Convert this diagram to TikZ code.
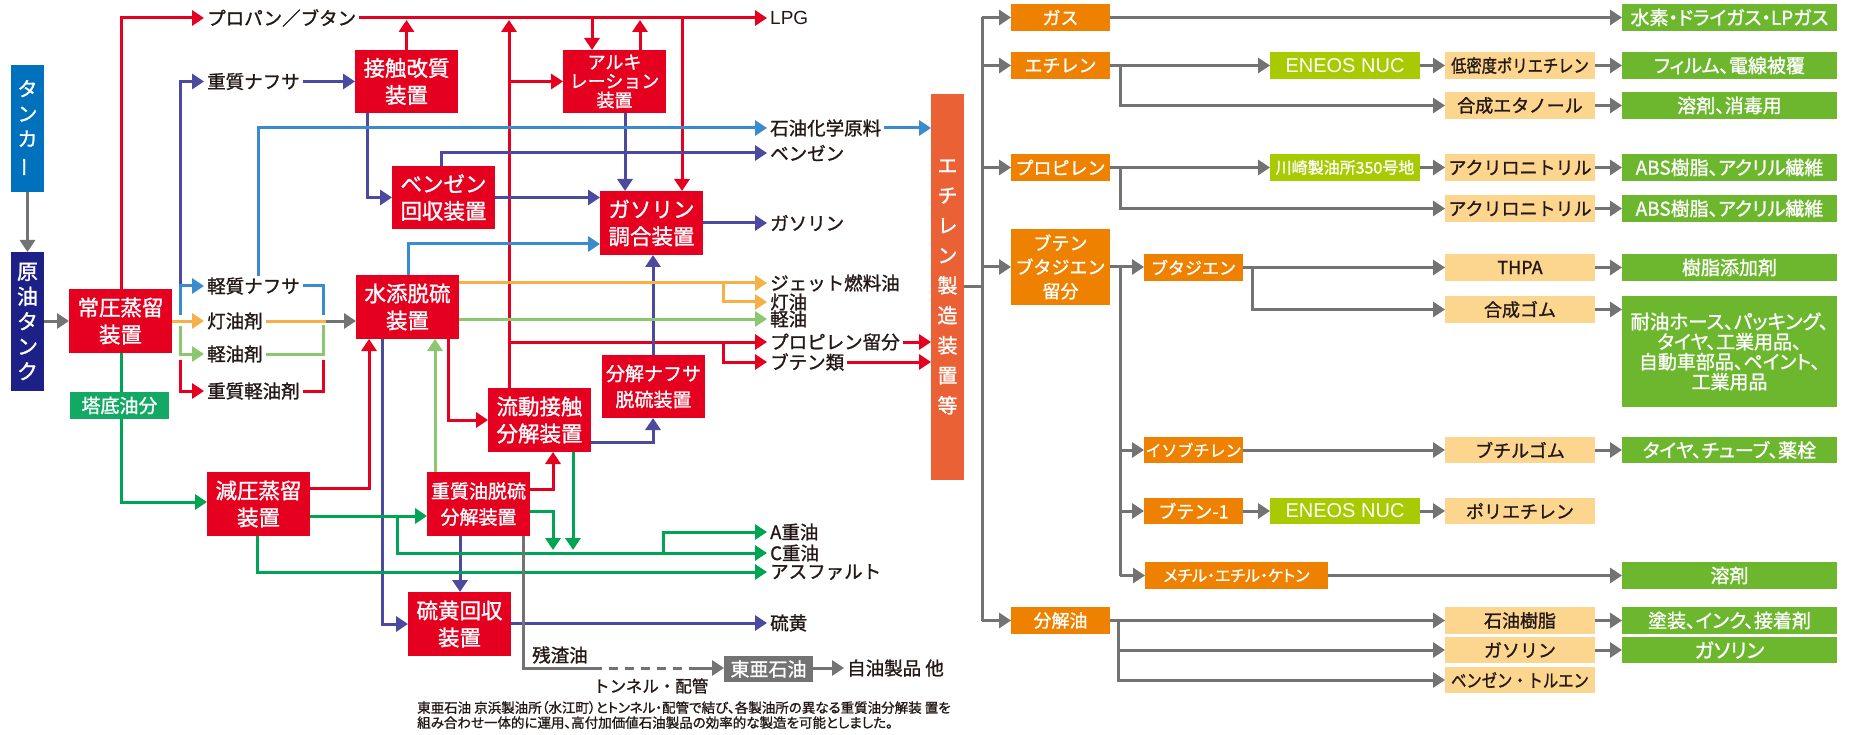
\documentclass[tikz,border=0pt]{standalone}
\usepackage{fontspec}
\usepackage{graphicx}
\setmainfont{Noto Sans CJK JP}[FakeBold=1.2]
\newfontfamily\latf{Liberation Sans}
\newfontfamily\paltf{Noto Sans CJK JP}[FakeBold=1.2,RawFeature=+palt]
\usetikzlibrary{arrows.meta,backgrounds}
\definecolor{cred}{HTML}{E50020}
\definecolor{cpur}{HTML}{4B4A9F}
\definecolor{cblu}{HTML}{3A8CCD}
\definecolor{cora}{HTML}{F6B048}
\definecolor{clgr}{HTML}{8CC66E}
\definecolor{cgrn}{HTML}{00A553}
\definecolor{cgry}{HTML}{737373}
\definecolor{ctank}{HTML}{0071BC}
\definecolor{cnavy}{HTML}{1D2087}
\definecolor{ctou}{HTML}{14A865}
\definecolor{ceth}{HTML}{EA6136}
\definecolor{cob}{HTML}{EE8200}
\definecolor{cyg}{HTML}{A8CA00}
\definecolor{cpc}{HTML}{FCD58F}
\definecolor{cgn}{HTML}{6CB72D}
\definecolor{ctxt}{HTML}{231815}
\newcommand\mkbox[7]{\node[#1, minimum width={(#5)-(#3)}, minimum height={(#6)-(#4)}] (#2) at ({((#3)+(#5))/2},{((#4)+(#6))/2}) {#7};}
\tikzset{
  bx/.style={inner sep=0pt, outer sep=0pt, align=center, text=white},
  rb/.style={bx, fill=cred, font=\fontsize{21.5}{27}\selectfont},
  rbm/.style={bx, fill=cred, font=\fontsize{19}{26}\selectfont},
  rbs/.style={bx, fill=cred, font=\fontsize{18}{19}\selectfont},
  tank/.style={bx, fill=ctank, font=\fontsize{20}{25}\selectfont},
  navy/.style={bx, fill=cnavy, font=\fontsize{21}{25}\selectfont},
  tb/.style={bx, fill=ctou, font=\fontsize{19}{20}\selectfont},
  gyb/.style={bx, fill=cgry, font=\fontsize{19}{20}\selectfont},
  eth/.style={bx, fill=ceth, font=\fontsize{20}{30}\selectfont},
  ob/.style={bx, fill=cob, font=\fontsize{18}{24}\selectfont},
  obs/.style={bx, fill=cob, font=\fontsize{16}{20}\selectfont},
  yg/.style={bx, fill=cyg, font=\fontsize{17}{20}\selectfont},
  pc/.style={bx, fill=cpc, text=ctxt, font=\fontsize{18}{20}\selectfont},
  gn/.style={bx, fill=cgn, font=\paltf\fontsize{19}{20}\selectfont},
  lb/.style={anchor=west, inner xsep=3pt, inner ysep=1pt, text=ctxt, font=\fontsize{18.5}{20}\selectfont},
  ar/.style={-{Triangle[length=12pt,width=15pt]}},
  rl/.style={line width=3pt, draw=cred},
  pl/.style={line width=3pt, draw=cpur},
  bl/.style={line width=3pt, draw=cblu},
  ol/.style={line width=3pt, draw=cora},
  ll/.style={line width=3pt, draw=clgr},
  gr/.style={line width=3pt, draw=cgrn},
  gl/.style={line width=3pt, draw=cgry},
}
\begin{document}
\begin{tikzpicture}[x=1pt,y=-1pt]
\useasboundingbox (0,0) rectangle (1855,735);
% ---------- left boxes ----------
\mkbox{tank}{tanker}{11}{65}{44}{192}{タ\\ン\\カ\\\rotatebox[origin=c]{90}{ー}}
\mkbox{navy}{genyu}{11}{252}{44}{391}{原\\油\\タ\\ン\\ク}
\mkbox{rb}{jouatsu}{69}{289}{172}{353}{常圧蒸留\\装置}
\mkbox{tb}{toutei}{70}{392}{169}{419}{塔底油分}
\mkbox{rb}{genatsu}{207}{472}{310}{536}{減圧蒸留\\装置}
\mkbox{rb}{sesshoku}{355}{50}{458}{113}{接触改質\\装置}
\mkbox{rb}{benzr}{392}{166}{495}{229}{ベンゼン\\回収装置}
\mkbox{rb}{suiten}{356}{275}{459}{339}{水添脱硫\\装置}
\mkbox{rbs}{alky}{563}{50}{666}{113}{アルキ\\レーション\\装置}
\mkbox{rb}{gasmix}{600}{191}{703}{255}{ガソリン\\調合装置}
\mkbox{rbm}{bunkai}{602}{355}{705}{418}{分解ナフサ\\脱硫装置}
\mkbox{rb}{ryudo}{488}{388}{591}{452}{流動接触\\分解装置}
\mkbox{rbm}{jushitsu}{427}{472}{530}{536}{重質油脱硫\\分解装置}
\mkbox{rb}{ryuo}{408}{592}{511}{656}{硫黄回収\\装置}
\mkbox{gyb}{toa}{724}{656}{813}{682}{東亜石油}
\mkbox{eth}{ethyl}{931}{94}{964}{480}{エ\\チ\\レ\\ン\\製\\造\\装\\置\\等}
% ---------- left labels ----------
\node[lb] (propan) at (204,18) {プロパン／ブタン};
\node[lb, font=\latf\fontsize{19}{20}\selectfont] (lpg) at (767,18) {LPG};
\node[lb] (jnaph) at (204,81.5) {重質ナフサ};
\node[lb] (sekiyu) at (767,128) {石油化学原料};
\node[lb] (benz) at (767,153) {ベンゼン};
\node[lb] (gasl) at (767,223) {ガソリン};
\node[lb] (lnaph) at (204,286) {軽質ナフサ};
\node[lb] (touyuzai) at (204,321) {灯油剤};
\node[lb] (keiyuzai) at (204,354) {軽油剤};
\node[lb] (jkeiyuzai) at (204,391) {重質軽油剤};
\node[lb] (jet) at (767,283) {ジェット燃料油};
\node[lb] (touyu) at (767,302) {灯油};
\node[lb] (keiyu) at (767,319) {軽油};
\node[lb] (propyl) at (767,342) {プロピレン留分};
\node[lb] (butenes) at (767,362) {ブテン類};
\node[lb] (aju) at (767,532) {A重油};
\node[lb] (cju) at (767,553) {C重油};
\node[lb] (asph) at (767,572) {アスファルト};
\node[lb] (sulf) at (767,623) {硫黄};
\node[lb] (zansa) at (529,655) {残渣油};
\node[lb, font=\fontsize{16.5}{18}\selectfont] (tunnel) at (590,686) {トンネル・配管};
\node[lb] (jiyu) at (844,668) {自油製品 他};
\node[anchor=north west, inner sep=0pt, align=left, text=ctxt, font=\paltf\fontsize{13.5}{15}\selectfont] (note) at (417,701)
  {東亜石油 京浜製油所（水江町）とトンネル・配管で結び、各製油所の異なる重質油分解装 置を\\組み合わせ一体的に運用、高付加価値石油製品の効率的な製造を可能としました。};
% ---------- right boxes ----------
\mkbox{ob}{gasb}{1011}{4}{1110}{31}{ガス}
\mkbox{ob}{ethb}{1011}{52}{1110}{79}{エチレン}
\mkbox{ob}{propb}{1011}{154}{1110}{181}{プロピレン}
\mkbox{ob}{butb}{1011}{229}{1110}{305}{ブテン\\ブタジエン\\留分}
\mkbox{ob}{bunkaiyu}{1011}{607}{1110}{634}{分解油}
\mkbox{ob}{butad}{1144}{254}{1243}{281}{\fontsize{17}{20}\selectfont ブタジエン}
\mkbox{obs}{isob}{1144}{437}{1243}{463}{イソブチレン}
\mkbox{ob}{bute1}{1144}{498}{1243}{524}{ブテン-1}
\mkbox{obs}{mek}{1145}{562}{1328}{589}{\paltf メチル・エチル・ケトン}
\mkbox{yg}{eneos1}{1270}{52}{1420}{79}{\latf\fontsize{20}{22}\selectfont ENEOS NUC}
\mkbox{yg}{kawa}{1270}{154}{1420}{181}{\fontsize{16}{20}\selectfont 川崎製油所350号地}
\mkbox{yg}{eneos2}{1270}{498}{1420}{524}{\latf\fontsize{20}{22}\selectfont ENEOS NUC}
\mkbox{pc}{ldpe}{1445}{52}{1595}{79}{\scalebox{0.85}[1]{低密度ポリエチレン}}
\mkbox{pc}{ethanol}{1445}{92}{1595}{119}{合成エタノール}
\mkbox{pc}{acn1}{1445}{154}{1595}{181}{アクリロニトリル}
\mkbox{pc}{acn2}{1445}{195}{1595}{222}{アクリロニトリル}
\mkbox{pc}{thpa}{1445}{254}{1595}{281}{THPA}
\mkbox{pc}{rubber}{1445}{296}{1595}{323}{合成ゴム}
\mkbox{pc}{butylr}{1445}{437}{1595}{463}{ブチルゴム}
\mkbox{pc}{pe}{1445}{498}{1595}{524}{ポリエチレン}
\mkbox{pc}{resin}{1445}{607}{1595}{634}{石油樹脂}
\mkbox{pc}{gasp}{1445}{637}{1595}{663}{ガソリン}
\mkbox{pc}{btx}{1445}{667}{1595}{693}{\scalebox{0.85}[1]{ベンゼン・トルエン}}
\mkbox{gn}{htwo}{1622}{4}{1837}{31}{水素・ドライガス・LPガス}
\mkbox{gn}{film}{1622}{52}{1837}{79}{フィルム、電線被覆}
\mkbox{gn}{solva}{1622}{92}{1837}{119}{溶剤、消毒用}
\mkbox{gn}{absa}{1622}{154}{1837}{181}{ABS樹脂、アクリル繊維}
\mkbox{gn}{absb}{1622}{195}{1837}{222}{ABS樹脂、アクリル繊維}
\mkbox{gn}{addit}{1622}{254}{1837}{281}{樹脂添加剤}
\mkbox{gn}{hose}{1622}{296}{1837}{407}{\fontsize{19.5}{25}\selectfont 耐油ホース、パッキング、\\タイヤ、工業用品、\\自動車部品、ペイント、\\工業用品}
\mkbox{gn}{tire}{1622}{437}{1837}{463}{タイヤ、チューブ、薬栓}
\mkbox{gn}{solvb}{1622}{562}{1837}{589}{溶剤}
\mkbox{gn}{paint}{1622}{607}{1837}{634}{塗装、インク、接着剤}
\mkbox{gn}{gasg}{1622}{637}{1837}{663}{\fontsize{20}{22}\selectfont ガソリン}
% ---------- connectors ----------
\begin{pgfonlayer}{background}
% gray inputs
\draw[gl,ar] (tanker.south) -- (genyu.north);
\draw[gl,ar] (genyu.east |- jouatsu.west) -- (jouatsu.west);
% red
\draw[rl,ar] (jouatsu.north -| 121,0) -- (121,18) -- (propan.west);
\draw[rl,ar] (propan.east) -- (lpg.west);
\draw[rl,ar] (sesshoku.north) -- (406.5,20);
\draw[rl,ar] (592,18) -- (alky.north -| 592,0);
\draw[rl,ar] (alky.north -| 640,0) -- (640,20);
\draw[rl,ar] (682,18) -- (gasmix.north -| 682,0);
\draw[rl,ar] (ryudo.north -| 509,0) -- (509,20);
\draw[rl,ar] (alky.west -| 509,0) -- (alky.west);
\draw[rl,ar] (509,342) -- (propyl.west);
\draw[rl,ar] (723,342) -- (723,362) -- (butenes.west);
\draw[rl,ar] (propyl.east) -- (ethyl.west |- propyl.east);
\draw[rl,ar] (butenes.east) -- (ethyl.west |- butenes.east);
\draw[rl,ar] (suiten.south -| 448,0) -- (448,420) -- (ryudo.west);
\draw[rl,ar] (genatsu.east |- 0,488) -- (369,488) -- (suiten.south -| 369,0);
\draw[rl,ar] (jushitsu.east |- 0,489) -- (553,489) -- (ryudo.south -| 553,0);
% left bracket
\draw[pl,ar] (180,284) -- (180,81.5) -- (jnaph.west);
\draw[bl,ar] (180,315) -- (180,286) -- (lnaph.west);
\draw[ol,ar] (jouatsu.east) -- (touyuzai.west);
\draw[ll,ar] (180,326) -- (180,354) -- (keiyuzai.west);
\draw[rl,ar] (180,360) -- (180,391) -- (jkeiyuzai.west);
% right bracket
\draw[bl] (lnaph.east) -- (323,286) -- (323,315);
\draw[ol] (touyuzai.east) -- (326,321);
\draw[gl,ar] (326,321) -- (suiten.west |- 0,321);
\draw[ll] (keiyuzai.east) -- (323,354) -- (323,325);
\draw[rl] (jkeiyuzai.east) -- (323,391) -- (323,360);
% purple
\draw[pl,ar] (jnaph.east) -- (sesshoku.west);
\draw[pl,ar] (sesshoku.south -| 367,0) -- (367,197.5) -- (benzr.west);
\draw[pl,ar] (benzr.north -| 441,0) -- (441,153) -- (benz.west);
\draw[pl,ar] (benzr.east) -- (gasmix.west |- benzr.east);
\draw[pl,ar] (gasmix.east) -- (gasl.west);
\draw[pl,ar] (alky.south -| 625,0) -- (gasmix.north -| 625,0);
\draw[pl,ar] (bunkai.north -| 653,0) -- (gasmix.south -| 653,0);
\draw[pl,ar] (ryudo.east |- 0,442) -- (653,442) -- (bunkai.south -| 653,0);
\draw[pl,ar] (suiten.south -| 382,0) -- (382,624) -- (ryuo.west);
\draw[pl,ar] (jushitsu.south -| 460,0) -- (ryuo.north -| 460,0);
\draw[pl,ar] (ryuo.east |- sulf.west) -- (sulf.west);
% blue
\draw[bl,ar] (258,276) -- (258,128) -- (sekiyu.west);
\draw[bl,ar] (sekiyu.east) -- (ethyl.west |- sekiyu.east);
\draw[bl,ar] (suiten.north -| 408,0) -- (408,244) -- (gasmix.west |- 0,244);
% orange / light green
\draw[ol,ar] (suiten.east |- jet.west) -- (jet.west);
\draw[ol,ar] (723,283) -- (723,302) -- (touyu.west);
\draw[ll,ar] (suiten.east |- keiyu.west) -- (keiyu.west);
\draw[ll,ar] (jushitsu.north -| 435,0) -- (suiten.south -| 435,0);
% green
\draw[gr,ar] (jouatsu.south -| 121,0) -- (121,502) -- (genatsu.west |- 0,502);
\draw[gr,ar] (genatsu.east |- 0,516) -- (jushitsu.west |- 0,516);
\draw[gr,ar] (397,516) -- (397,553) -- (cju.west);
\draw[gr,ar] (663,553) -- (663,532) -- (aju.west);
\draw[gr,ar] (genatsu.south -| 257,0) -- (257,572) -- (asph.west);
\draw[gr,ar] (jushitsu.east |- 0,511) -- (553,511) -- (553,550);
\draw[gr,ar] (ryudo.south -| 573,0) -- (573,550);
% gray residue
\draw[gl] (jushitsu.south -| 523,0) -- (523,668) -- (593,668);
\draw[gl,dash pattern=on 9pt off 7pt] (593,668) -- (690,668);
\draw[gl,ar] (690,668) -- (toa.west |- 0,668);
\draw[gl,ar] (toa.east |- jiyu.west) -- (jiyu.west);
% ---------- right connectors ----------
\draw[gl] (ethyl.east |- 0,287) -- (982,287);
\draw[gl] (982,17.5) -- (982,620.5);
\draw[gl,ar] (982,17.5) -- (gasb.west);
\draw[gl,ar] (982,65.5) -- (ethb.west);
\draw[gl,ar] (982,167.5) -- (propb.west);
\draw[gl,ar] (982,267) -- (butb.west);
\draw[gl,ar] (982,620.5) -- (bunkaiyu.west);
\draw[gl,ar] (gasb.east) -- (htwo.west);
\draw[gl,ar] (ethb.east) -- (eneos1.west);
\draw[gl,ar] (1120,65.5) -- (1120,105.5) -- (ethanol.west);
\draw[gl,ar] (eneos1.east) -- (ldpe.west);
\draw[gl,ar] (ldpe.east) -- (film.west);
\draw[gl,ar] (ethanol.east) -- (solva.west);
\draw[gl,ar] (propb.east) -- (kawa.west);
\draw[gl,ar] (1120,167.5) -- (1120,208.5) -- (acn2.west);
\draw[gl,ar] (kawa.east) -- (acn1.west);
\draw[gl,ar] (acn1.east) -- (absa.west);
\draw[gl,ar] (acn2.east) -- (absb.west);
\draw[gl,ar] (butb.east) -- (butad.west |- butb.east);
\draw[gl] (1120,267) -- (1120,575.5);
\draw[gl,ar] (1120,450) -- (isob.west);
\draw[gl,ar] (1120,511) -- (bute1.west);
\draw[gl,ar] (1120,575.5) -- (mek.west);
\draw[gl,ar] (butad.east) -- (thpa.west);
\draw[gl,ar] (1252,267.5) -- (1252,309.5) -- (rubber.west);
\draw[gl,ar] (thpa.east) -- (addit.west);
\draw[gl,ar] (rubber.east) -- (hose.west |- rubber.east);
\draw[gl,ar] (isob.east) -- (butylr.west);
\draw[gl,ar] (butylr.east) -- (tire.west);
\draw[gl,ar] (bute1.east) -- (eneos2.west);
\draw[gl,ar] (eneos2.east) -- (pe.west);
\draw[gl,ar] (mek.east) -- (solvb.west);
\draw[gl,ar] (bunkaiyu.east) -- (resin.west);
\draw[gl,ar] (1118,620.5) -- (1118,680) -- (btx.west);
\draw[gl,ar] (1118,650) -- (gasp.west);
\draw[gl,ar] (resin.east) -- (paint.west);
\draw[gl,ar] (gasp.east) -- (gasg.west);
\end{pgfonlayer}
\end{tikzpicture}
\end{document}
